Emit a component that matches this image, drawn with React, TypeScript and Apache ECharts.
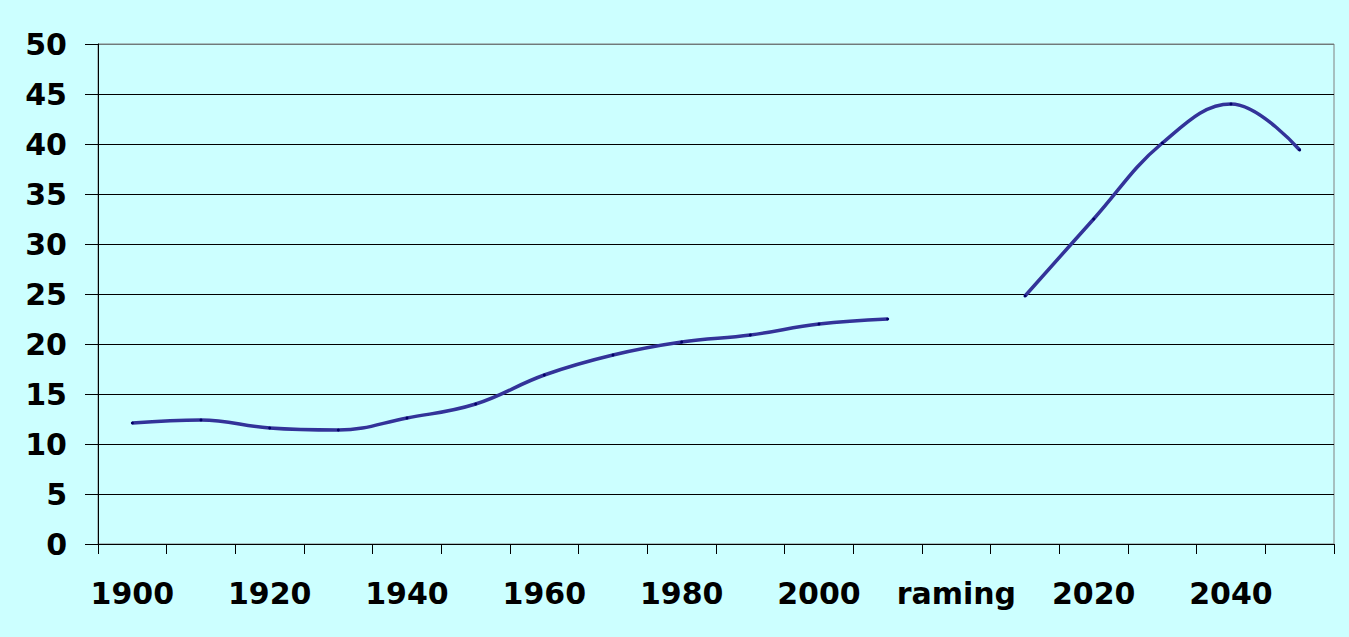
import React, { useEffect, useRef } from "react";
import * as echarts from "echarts";

const categories = [
  "1900", "1910", "1920", "1930", "1940", "1950", "1960", "1970", "1980", "1990",
  "2000", "2010", "raming", "2010 ", "2020", "2030", "2040", "2050",
];

// historical values (1900-2010)
const historical = [12.1, 12.4, 11.6, 11.4, 12.6, 14.0, 16.9, 18.9, 20.2, 20.9, 22.0, 22.5];
// projection values (2010-2050)
const projection = [24.8, 32.5, 40.1, 44.0, 39.4];

const yTicks = { min: 0, max: 50, interval: 5 };

export default function App() {
  const ref = useRef<HTMLDivElement>(null);
  useEffect(() => {
    if (!ref.current) return;
    const chart = echarts.init(ref.current, null, { renderer: "svg" });
    const n = categories.length;
    const histData = categories.map((_, i) => (i < historical.length ? historical[i] : null));
    const projStart = n - projection.length;
    const projData = categories.map((_, i) => (i >= projStart ? projection[i - projStart] : null));
    const font = "'DejaVu Sans', sans-serif";
    const gridColors: string[] = [];
    for (let v = yTicks.min; v <= yTicks.max; v += yTicks.interval) {
      gridColors.push(v === yTicks.max ? "#6f7a7a" : "#000000");
    }
    chart.setOption({
      animation: false,
      backgroundColor: "#CCFFFF",
      grid: {
        left: 98,
        right: 15,
        top: 44,
        bottom: 93,
        show: true,
        borderColor: "#808080",
        borderWidth: 1,
        backgroundColor: "transparent",
      },
      xAxis: {
        type: "category",
        data: categories,
        boundaryGap: true,
        axisLine: { show: true, lineStyle: { color: "#000", width: 1 } },
        axisTick: { show: true, interval: 0, length: 10, lineStyle: { color: "#000", width: 1 } },
        axisLabel: {
          interval: 1,
          margin: 34,
          fontFamily: font,
          fontWeight: "bold",
          fontSize: 30,
          color: "#000",
          formatter: (v: string) => v.trim(),
        },
        splitLine: { show: false },
      },
      yAxis: {
        type: "value",
        min: yTicks.min,
        max: yTicks.max,
        interval: yTicks.interval,
        axisLine: { show: true, lineStyle: { color: "#000", width: 1 } },
        axisTick: { show: true, length: 13, lineStyle: { color: "#000", width: 1 } },
        axisLabel: {
          margin: 31,
          fontFamily: font,
          fontWeight: "bold",
          fontSize: 30,
          color: "#000",
        },
        splitLine: { show: true, lineStyle: { color: gridColors, width: 1 } },
      },
      series: [
        {
          name: "historisch",
          type: "line",
          data: histData,
          smooth: 0.4,
          connectNulls: false,
          symbol: "circle",
          symbolSize: 3,
          itemStyle: { color: "#000066" },
          lineStyle: { color: "#333399", width: 3.5 },
        },
        {
          name: "raming",
          type: "line",
          data: projData,
          smooth: 0.4,
          connectNulls: false,
          symbol: "circle",
          symbolSize: 3,
          itemStyle: { color: "#000066" },
          lineStyle: { color: "#333399", width: 3.5 },
        },
      ],
    });
    return () => chart.dispose();
  }, []);
  return (
    <div
      ref={ref}
      style={{ position: "absolute", left: 0, top: 0, width: 1349, height: 637 }}
    />
  );
}
